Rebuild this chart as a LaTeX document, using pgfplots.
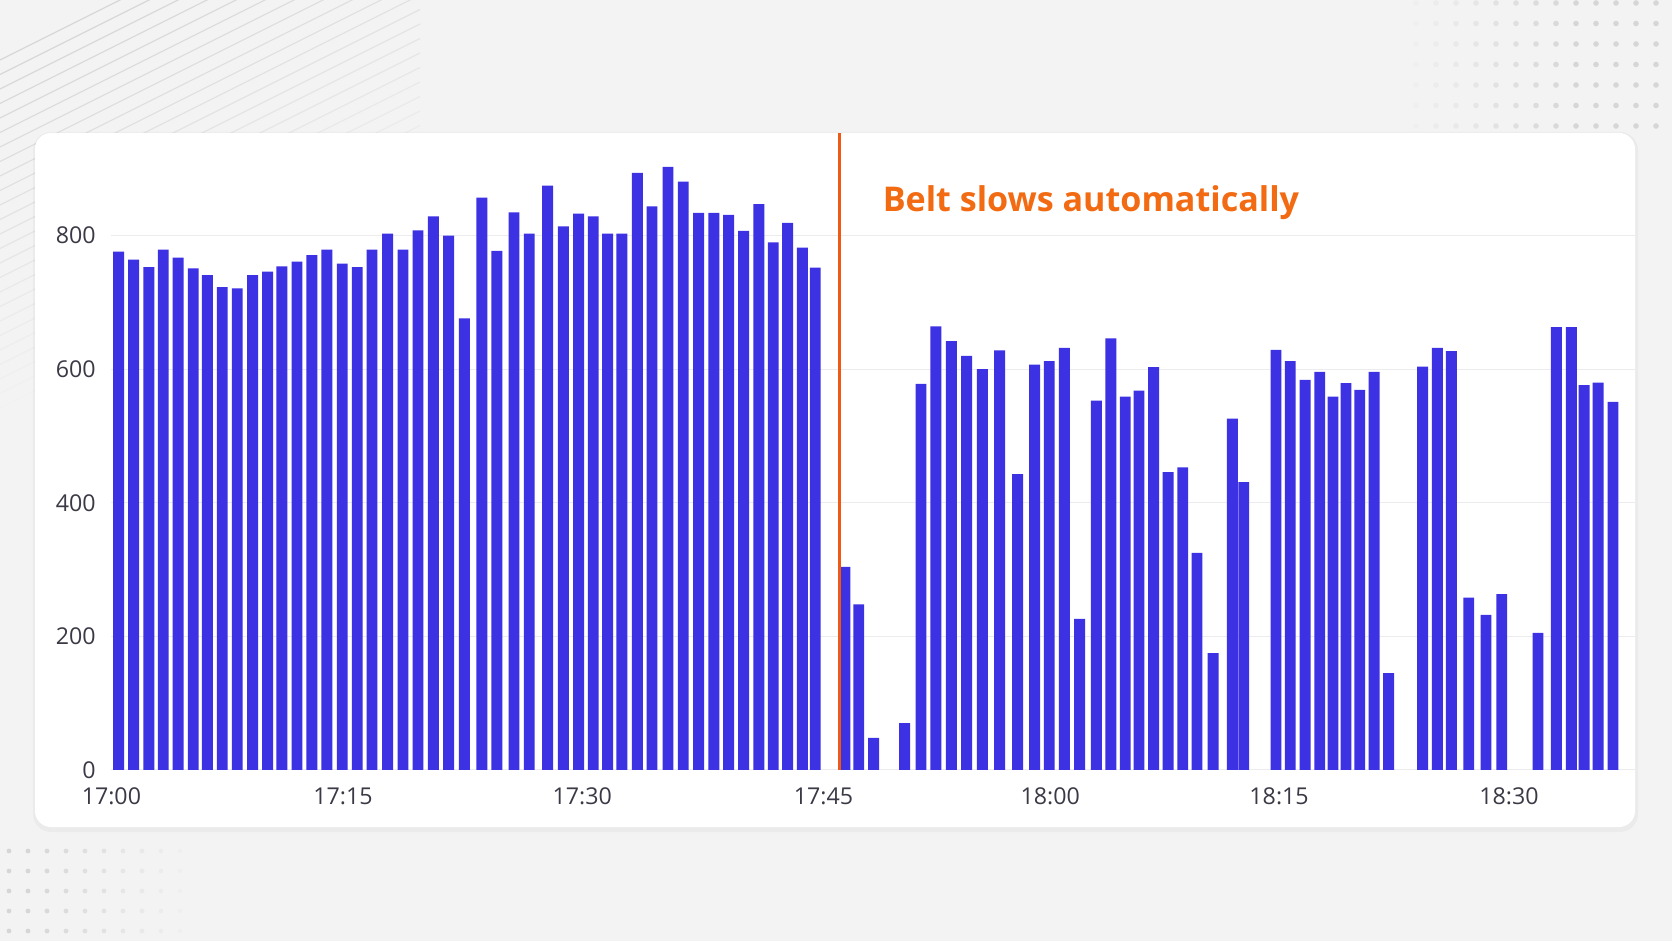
\documentclass[border=0pt]{standalone}
\usepackage{pgfplots}
\pgfplotsset{compat=1.18}
\usepackage{fontspec}
\newfontfamily\tickfont{Open Sans}
\newfontfamily\annfont{Open Sans}
\definecolor{bgcol}{HTML}{F3F3F3}
\definecolor{barblue}{HTML}{3C31E3}
\definecolor{orangeline}{HTML}{EE5A14}
\definecolor{orangetext}{HTML}{F26A12}
\definecolor{ticktext}{HTML}{3A3A46}
\definecolor{gridcol}{HTML}{ECECEE}
\definecolor{decogray}{HTML}{D6D6D6}

\pgfplotstableread{
m v
0.36 776
1.33 764
2.31 753
3.23 779
4.19 767
5.16 751
6.06 741
7.02 723
7.98 721
8.97 741
9.93 746
10.85 754
11.82 761
12.78 771
13.74 779
14.73 758
15.69 753
16.64 779
17.64 803
18.63 779
19.59 808
20.58 829
21.56 800
22.57 676
23.70 857
24.66 777
25.76 835
26.74 803
27.92 875
28.93 814
29.91 833
30.85 829
31.77 803
32.69 803
33.68 894
34.62 844
35.65 903
36.63 881
37.62 834
38.60 834
39.54 831
40.51 807
41.49 847
42.41 790
43.33 819
44.28 782
45.11 752
47.02 304
47.90 248
48.86 48
50.85 70
51.90 578
52.86 664
53.85 642
54.83 620
55.84 600
56.95 628
58.11 443
59.20 607
60.14 612
61.11 632
62.09 226
63.16 553
64.10 646
65.02 559
65.90 568
66.84 603
67.77 446
68.71 453
69.63 325
70.66 175
71.90 526
72.63 431
74.70 629
75.62 612
76.57 584
77.51 596
78.36 559
79.20 579
80.08 569
81.00 596
81.94 145
84.12 604
85.07 632
85.97 627
87.08 258
88.19 232
89.20 263
91.53 205
92.71 663
93.67 663
94.49 576
95.39 580
96.35 551
}\belttable

\begin{document}
\begin{tikzpicture}[x=1mm,y=1mm]
\useasboundingbox (0,0) rectangle (167.2,94.1);
% background
\fill[bgcol] (0,0) rectangle (167.2,94.1);
% diagonal decorative lines, top-left
\begin{scope}
\clip (0,0) rectangle (60,94.1);
\foreach \k in {0,...,24} {
  \pgfmathsetmacro{\op}{max(0,0.95-\k*0.038)}
  \draw[decogray, line width=0.13mm, opacity=\op] (0,94.1-6-\k*1.45) -- ++(42,21);
}
\end{scope}
% dot grid, top-right
\foreach \i in {0,...,15} {
  \foreach \j in {0,...,6} {
    \pgfmathsetmacro{\op}{min(1,max(0,(\i-1)/9))}
    \fill[decogray, opacity=\op] (137.6+\i*2,94.1-0.3-\j*2.05) circle (0.28);
  }
}
% dot grid, bottom-left
\foreach \i in {0,...,10} {
  \foreach \j in {0,...,4} {
    \pgfmathsetmacro{\op}{min(1,max(0,(10-\i)/9))}
    \fill[decogray, opacity=\op] (0.9+\i*1.9,1.0+\j*2.0) circle (0.24);
  }
}
% card shadow and card
\fill[black, opacity=0.03, rounded corners=1.8mm] (3.3,10.9) rectangle (163.8,80.9);
\fill[white, rounded corners=1.6mm] (3.5,11.4) rectangle (163.5,80.8);

\begin{axis}[
  at={(11.14mm,17.113mm)}, anchor=south west,
  width=152.42mm, height=63.64mm, scale only axis,
  xmin=-0.1, xmax=97.8, ymin=0, ymax=953,
  axis line style={draw=none},
  tick style={draw=none},
  major tick length=0pt,
  ytick={0,200,400,600,800},
  xtick={-0.1,14.77,30.14,45.64,60.2,74.9,89.67},
  xticklabels={17:00,17:15,17:30,17:45,18:00,18:15,18:30},
  ymajorgrids,
  grid style={color=gridcol, line width=0.1mm},
  /pgf/number format/assume math mode=true,
  tick label style={font=\tickfont\fontsize{6.6}{7.2}\selectfont, text=ticktext, inner sep=0pt},
  yticklabel style={anchor=east, xshift=-1.5mm},
  xticklabel style={anchor=center, yshift=-2.68mm},
  clip=false,
]
\addplot[ybar, bar width=0.7, bar shift=0pt, fill=barblue, draw=none] table[x=m, y=v] {\belttable};
\addplot[orangeline, line width=0.25mm, no marks] coordinates {(46.65,0) (46.65,953)};
\node[anchor=base west, inner sep=0pt, text=orangetext, font=\annfont\bfseries\fontsize{9.7}{11}\selectfont] at (axis cs:49.4,836) {Belt slows automatically};
\end{axis}
\end{tikzpicture}
\end{document}
